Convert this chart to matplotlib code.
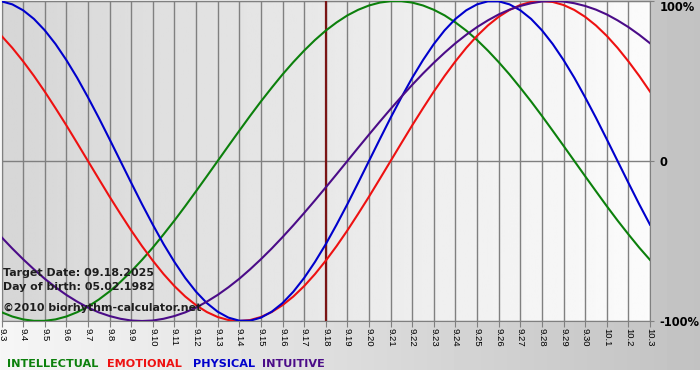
import numpy as np
import matplotlib.pyplot as plt

# dias mostrados en el eje x (mes.dia)
days = ['9.3', '9.4', '9.5', '9.6', '9.7', '9.8', '9.9', '9.10', '9.11', '9.12',
        '9.13', '9.14', '9.15', '9.16', '9.17', '9.18', '9.19', '9.20', '9.21',
        '9.22', '9.23', '9.24', '9.25', '9.26', '9.27', '9.28', '9.29', '9.30',
        '10.1', '10.2', '10.3']
target_day = '9.18'
steps_per_day = 2  # valores leidos cada medio dia

# valores en % (cada medio dia, desde 9.3 hasta 10.3)
intellectual = [-94.5, -97.2, -99.0, -99.9, -99.9, -99.0, -97.2, -94.5, -91.0, -86.6,
                -81.5, -75.6, -69.0, -61.8, -54.1, -45.8, -37.2, -28.2, -18.9, -9.5,
                0.0, 9.5, 18.9, 28.2, 37.2, 45.8, 54.1, 61.8, 69.0, 75.6,
                81.5, 86.6, 91.0, 94.5, 97.2, 99.0, 99.9, 99.9, 99.0, 97.2,
                94.5, 91.0, 86.6, 81.5, 75.6, 69.0, 61.8, 54.1, 45.8, 37.2,
                28.2, 18.9, 9.5, 0.0, -9.5, -18.9, -28.2, -37.2, -45.8, -54.1, -61.8]
emotional = [78.2, 70.7, 62.3, 53.2, 43.4, 33.0, 22.3, 11.2, 0.0, -11.2,
             -22.3, -33.0, -43.4, -53.2, -62.3, -70.7, -78.2, -84.7, -90.1, -94.4,
             -97.5, -99.4, -100.0, -99.4, -97.5, -94.4, -90.1, -84.7, -78.2, -70.7,
             -62.3, -53.2, -43.4, -33.0, -22.3, -11.2, 0.0, 11.2, 22.3, 33.0,
             43.4, 53.2, 62.3, 70.7, 78.2, 84.7, 90.1, 94.4, 97.5, 99.4,
             100.0, 99.4, 97.5, 94.4, 90.1, 84.7, 78.2, 70.7, 62.3, 53.2, 43.4]
physical = [99.8, 97.9, 94.2, 88.8, 81.7, 73.1, 63.1, 52.0, 39.8, 27.0,
            13.6, 0.0, -13.6, -27.0, -39.8, -52.0, -63.1, -73.1, -81.7, -88.8,
            -94.2, -97.9, -99.8, -99.8, -97.9, -94.2, -88.8, -81.7, -73.1, -63.1,
            -52.0, -39.8, -27.0, -13.6, 0.0, 13.6, 27.0, 39.8, 52.0, 63.1,
            73.1, 81.7, 88.8, 94.2, 97.9, 99.8, 99.8, 97.9, 94.2, 88.8,
            81.7, 73.1, 63.1, 52.0, 39.8, 27.0, 13.6, 0.0, -13.6, -27.0, -39.8]
intuitive = [-47.6, -54.7, -61.4, -67.7, -73.6, -78.9, -83.7, -87.9, -91.6, -94.6,
             -96.9, -98.6, -99.7, -100.0, -99.7, -98.6, -96.9, -94.6, -91.6, -87.9,
             -83.7, -78.9, -73.6, -67.7, -61.4, -54.7, -47.6, -40.2, -32.5, -24.6,
             -16.5, -8.3, 0.0, 8.3, 16.5, 24.6, 32.5, 40.2, 47.6, 54.7,
             61.4, 67.7, 73.6, 78.9, 83.7, 87.9, 91.6, 94.6, 96.9, 98.6,
             99.7, 100.0, 99.7, 98.6, 96.9, 94.6, 91.6, 87.9, 83.7, 78.9, 73.6]

series = [('INTELLECTUAL', intellectual, '#0c800c'),
          ('EMOTIONAL', emotional, '#ee1111'),
          ('PHYSICAL', physical, '#0000cc'),
          ('INTUITIVE', intuitive, '#4b0c88')]

W, H = 700, 380
fig = plt.figure(figsize=(W / 100, H / 100), dpi=100)

# fondo degradado de la figura
bg = fig.add_axes([0, 0, 1, 1])
img = np.tile(np.linspace(0.965, 0.76, W), (H, 1))
img[370:, :] = 1.0
bg.imshow(img, cmap='gray', vmin=0, vmax=1, aspect='auto')
bg.axis('off')

# area del grafico
ax = fig.add_axes([1.5 / W, 1 - 321 / H, 648.5 / W, 320 / H])
x = np.arange(len(days))
ax.imshow(np.linspace(0.84, 0.985, 256)[None, :], cmap='gray', vmin=0, vmax=1,
          extent=(x[0], x[-1], -100, 100), aspect='auto', zorder=0)
ax.set_xlim(x[0], x[-1])
ax.set_ylim(-100, 100)

ax.set_xticks(x)
ax.set_xticklabels(days, rotation=270, fontsize=6.8, family='Liberation Sans')
ax.tick_params(axis='x', length=4, color='#808080', pad=1)

ax.yaxis.tick_right()
ax.set_yticks([-100, 0, 100])
ax.set_yticklabels(['-100%', '0', '100%'], fontsize=8.3, weight='bold')
ax.tick_params(axis='y', length=3, color='#808080', pad=4)
ax.get_yticklabels()[2].set_va('top')

ax.grid(True, color='#808080', lw=1, zorder=1)
for sp in ax.spines.values():
    sp.set_color('#808080')

ax.axvline(days.index(target_day), color='#7a1414', lw=1.6, zorder=3)

for name, vals, col in series:
    t = np.arange(len(vals)) / steps_per_day
    ax.plot(t, vals, color=col, lw=1.5, zorder=4)

# textos
txt = dict(fontsize=7.9, weight='bold', color='#1e1e1e', va='baseline')
fig.text(3 / W, 1 - 276 / H, 'Target Date: 09.18.2025', **txt)
fig.text(3 / W, 1 - 290 / H, 'Day of birth: 05.02.1982', **txt)
fig.text(3 / W, 1 - 311 / H, '\u00a92010 biorhythm-calculator.net', **txt)

# leyenda de colores
legend_x = [7, 107, 193, 262]
for (name, vals, col), lx in zip(series, legend_x):
    fig.text(lx / W, 1 - 367 / H, name, fontsize=8.1, weight='bold', color=col,
             va='baseline')

fig.savefig('out.png', dpi=100)
